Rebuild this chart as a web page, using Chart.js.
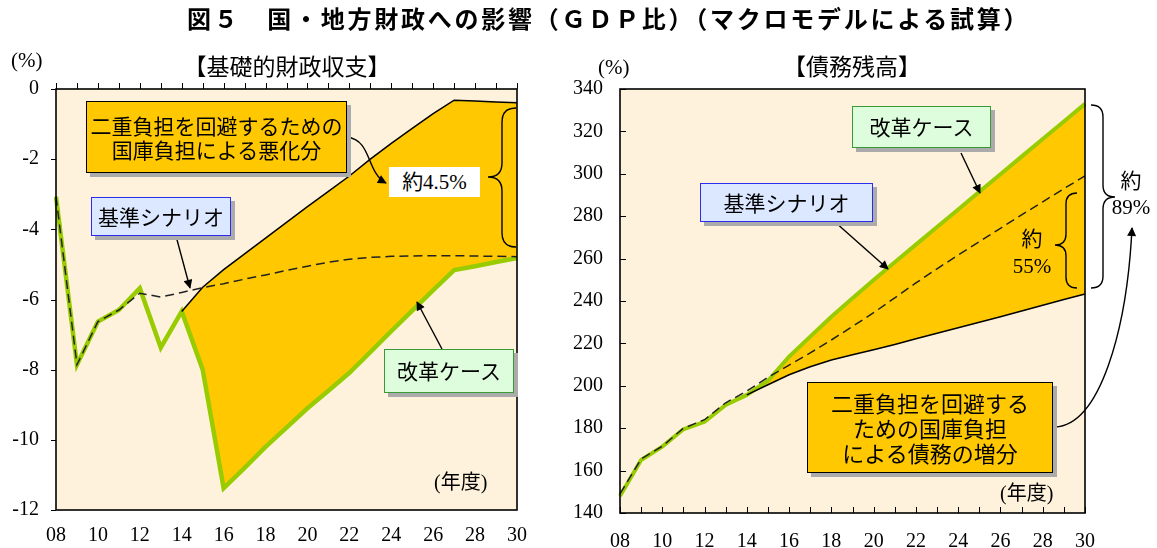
<!DOCTYPE html>
<html lang="ja">
<head>
<meta charset="utf-8">
<script src="https://cdn.jsdelivr.net/npm/chart.js@4.4.1/dist/chart.umd.min.js"></script>
<style>
  html, body { margin: 0; padding: 0; background: #fff; }
  #page { position: relative; width: 1157px; height: 548px; overflow: hidden; color: #000;
          font-family: "Liberation Serif", "Noto Sans CJK JP", serif; }
  canvas { position: absolute; top: 0; }
  #cvA { left: 0; }
  #cvB { left: 556px; }
  .t { position: absolute; white-space: nowrap; }
  .jp { font-family: "Noto Sans CJK JP", sans-serif; }
  .box { position: absolute; box-sizing: border-box; text-align: center; white-space: nowrap;
         font-family: "Noto Sans CJK JP", sans-serif; }
  .gold  { background: #FFC800; border: 1.5px solid #000; box-shadow: 4px 4px 0 #ABABAB; }
  .blue  { background: #DCE8FF; border: 1.5px solid #2a2cf0; box-shadow: 4px 4px 0 #ABABAB; }
  .green { background: #DDFDDD; border: 1.5px solid #3a9a3a; box-shadow: 4px 4px 0 #ABABAB; }
  svg { position: absolute; left: 0; top: 0; }
</style>
</head>
<body>
<div id="page">
  <canvas id="cvA" width="556" height="548" style="width:556px;height:548px"></canvas>
  <canvas id="cvB" width="601" height="548" style="width:601px;height:548px"></canvas>

  <div class="t jp" style="left:187px;top:3px;font-size:24px;font-weight:700;letter-spacing:2.75px;line-height:30px;">図５　国・地方財政への影響（ＧＤＰ比）（マクロモデルによる試算）</div>

  <div class="t jp" style="left:177px;top:50px;width:220px;text-align:center;font-size:23px;line-height:30px;">【基礎的財政収支】</div>
  <div class="t jp" style="left:782px;top:50px;width:140px;text-align:center;font-size:23px;line-height:30px;">【債務残高】</div>
  <div class="t" style="left:11px;top:47px;font-size:21px;line-height:26px;">(%)</div>
  <div class="t" style="left:598px;top:54px;font-size:21px;line-height:26px;">(%)</div>
  <div class="t" style="left:434px;top:469px;font-size:20px;line-height:26px;">(年度)</div>
  <div class="t" style="left:1000px;top:480px;font-size:20px;line-height:26px;">(年度)</div>

  <svg width="1157" height="548" viewBox="0 0 1157 548">
    <defs>
      <marker id="ah" viewBox="0 0 10 10" refX="9" refY="5" markerWidth="11" markerHeight="9" markerUnits="userSpaceOnUse" orient="auto">
        <path d="M0,0 L10,5 L0,10 z" fill="#000"/>
      </marker>
    </defs>
    <g fill="none" stroke="#000" stroke-width="1.4">
      <!-- braces -->
      <path d="M516,108 Q502,108 502,122 L502,163 Q502,177 488,177 Q502,177 502,191 L502,233 Q502,247 516,247"/>
      <path d="M1077,193 Q1066,193 1066,204 L1066,234 Q1066,245 1055,245 Q1066,245 1066,256 L1066,277 Q1066,288 1077,288"/>
      <path d="M1091,105 Q1103,105 1103,117 L1103,185 Q1103,197 1115,197 Q1103,197 1103,209 L1103,276 Q1103,288 1091,288"/>
      <!-- leader arrows -->
      <path d="M347,137 C372,140 366,172 386,183" marker-end="url(#ah)"/>
      <path d="M176,236 L190,288" marker-end="url(#ah)"/>
      <path d="M442,349 L417,302" marker-end="url(#ah)"/>
      <path d="M961,153 L980,193" marker-end="url(#ah)"/>
      <path d="M835,222 L888,269" marker-end="url(#ah)"/>
      <path d="M1055,427 C1100,425 1127,330 1132,228" marker-end="url(#ah)"/>
    </g>
  </svg>

  <div class="box gold" style="left:86px;top:101px;width:261px;height:72px;font-size:21px;line-height:24px;padding-top:11px;">二重負担を回避するための<br>国庫負担による悪化分</div>
  <div class="box" style="left:389px;top:167px;width:91px;height:30px;background:#fff;font-family:'Liberation Serif','Noto Sans CJK JP',serif;font-size:21px;line-height:30px;">約4.5%</div>
  <div class="box blue" style="left:91px;top:197px;width:140px;height:39px;font-size:21px;line-height:36px;">基準シナリオ</div>
  <div class="box green" style="left:384px;top:349px;width:130px;height:44px;font-size:21px;line-height:41px;">改革ケース</div>

  <div class="box green" style="left:852px;top:106px;width:139px;height:42px;font-size:21px;line-height:39px;">改革ケース</div>
  <div class="box blue" style="left:700px;top:183px;width:173px;height:39px;font-size:21px;line-height:36px;">基準シナリオ</div>
  <div class="box gold" style="left:807px;top:382px;width:246px;height:91px;font-size:22px;line-height:25px;padding-top:7px;">二重負担を回避する<br>ための国庫負担<br>による債務の増分</div>
  <div class="t" style="left:1002px;top:226px;width:60px;text-align:center;font-size:21px;line-height:27px;">約<br>55%</div>
  <div class="t" style="left:1101px;top:168px;width:60px;text-align:center;font-size:21px;line-height:26px;">約<br>89%</div>
</div>

<script>
// Fiscal years shown on both horizontal axes (FY2008–FY2030)
const years = ['08','09','10','11','12','13','14','15','16','17','18','19','20',
               '21','22','23','24','25','26','27','28','29','30'];

// Primary balance, % of GDP
const pbBase   = [-3.07,-7.86,-6.63,-6.30,-5.82,-5.93,-5.80,-5.66,-5.55,-5.42,-5.30,-5.17,-5.05,
                  -4.94,-4.85,-4.80,-4.77,-4.76,-4.75,-4.75,-4.76,-4.77,-4.78];
const pbReform = [-3.07,-7.86,-6.63,-6.30,-5.68,-7.37,-6.34,-8.00,-11.38,-10.80,-10.20,-9.65,-9.10,
                  -8.60,-8.09,-7.50,-6.90,-6.32,-5.73,-5.16,-5.05,-4.93,-4.82];
const pbBurden = [null,null,null,null,null,null,-6.34,-5.65,-5.15,-4.70,-4.25,-3.80,-3.35,
                  -2.92,-2.48,-2.00,-1.55,-1.12,-0.70,-0.32,-0.34,-0.37,-0.39];

// Outstanding debt, % of GDP
const debtBase   = [149,165.5,171.5,180,184,192,197.5,204,209.8,215.5,221.6,228,234.5,
                    241.5,248.5,255.2,261.7,268,274.3,280.6,286.8,293,299];
const debtReform = [148,165,171.3,179.5,183,191,195.7,202.4,213.7,223.2,232.6,241.3,249.9,
                    258.3,266.6,274.9,283.2,291.5,299.8,308.1,316.4,324.7,333];
const debtBurden = [null,null,null,null,null,null,195.7,200.5,205.2,209,212.2,214.6,217,
                    219.5,222.2,224.8,227.4,230,232.6,235.3,238,240.7,243.3];

// Axis ranges
const pbAxis   = { min: -12, max: 0,   step: 2 };
const debtAxis = { min: 140, max: 340, step: 20 };

const COL_FILL   = '#FFC800';
const COL_REFORM = '#99CC00';
const COL_PLOT   = '#FFF2DC';
const TICK_FONT  = { family: 'Liberation Serif', size: 20 };

// Plot background, frame and tick marks
const framePlugin = {
  id: 'frame',
  beforeDraw(chart, args, o) {
    const { ctx, chartArea: a } = chart;
    ctx.save();
    ctx.fillStyle = COL_PLOT;
    ctx.fillRect(a.left, a.top, a.right - a.left, a.bottom - a.top);
    ctx.restore();
  },
  afterDraw(chart, args, o) {
    const { ctx, chartArea: a, scales } = chart;
    ctx.save();
    ctx.strokeStyle = '#000';
    ctx.lineWidth = 1;
    ctx.beginPath();
    scales.x.ticks.forEach((t, i) => {
      const x = Math.round(scales.x.getPixelForTick(i)) + 0.5;
      if (o.xTicks === 'topOut') { ctx.moveTo(x, a.top); ctx.lineTo(x, a.top - 6); }
      else { ctx.moveTo(x, a.bottom); ctx.lineTo(x, a.bottom - 6); }
    });
    scales.y.ticks.forEach((t, i) => {
      const y = Math.round(scales.y.getPixelForTick(i)) + 0.5;
      if (o.yTicks === 'out') { ctx.moveTo(a.left - 5, y); ctx.lineTo(a.left, y); }
      else { ctx.moveTo(a.left, y); ctx.lineTo(a.left + 6, y); }
    });
    ctx.stroke();
    ctx.lineWidth = 1.6;
    ctx.strokeRect(a.left, a.top, a.right - a.left, a.bottom - a.top);
    ctx.restore();
  }
};

function lineSets(base, burden, reform, reformWidth) {
  return [
    { label: '基準シナリオ', data: base, borderColor: '#222', borderWidth: 1.5,
      borderDash: [9, 5], pointRadius: 0, fill: false, tension: 0 },
    { label: '国庫負担', data: burden, borderColor: '#000', borderWidth: 1.5,
      pointRadius: 0, fill: 2, backgroundColor: COL_FILL, tension: 0 },
    { label: '改革ケース', data: reform, borderColor: COL_REFORM, borderWidth: reformWidth,
      pointRadius: 0, fill: false, tension: 0 }
  ];
}

function makeChart(id, sets, axis, g) {
  return new Chart(document.getElementById(id), {
    type: 'line',
    data: { labels: years, datasets: sets },
    options: {
      responsive: false,
      animation: false,
      events: [],
      layout: { padding: { top: 89, left: 0, right: g.right, bottom: 0 } },
      plugins: {
        legend: { display: false },
        tooltip: { enabled: false },
        filler: { drawTime: 'beforeDatasetsDraw' },
        frame: { xTicks: g.xTicks, yTicks: g.yTicks }
      },
      scales: {
        x: {
          type: 'category', offset: false,
          grid: { display: false, drawTicks: false }, border: { display: false },
          ticks: { autoSkip: false, maxRotation: 0, padding: g.xPad, color: '#000', font: TICK_FONT,
                   callback: (v, i) => (i % 2 === 0 ? years[i] : '') },
          afterFit: s => { s.height = g.xH; }
        },
        y: {
          min: axis.min, max: axis.max,
          grid: { display: false, drawTicks: false }, border: { display: false },
          ticks: { stepSize: axis.step, padding: 17, color: '#000', font: TICK_FONT },
          afterFit: s => { s.width = g.yW; }
        }
      }
    },
    plugins: [framePlugin]
  });
}

makeChart('cvA', lineSets(pbBase, pbBurden, pbReform, 4.5), pbAxis,
          { right: 39, xPad: 14, xH: 38, yW: 56, xTicks: 'topOut', yTicks: 'out' });
makeChart('cvB', lineSets(debtBase, debtBurden, debtReform, 4), debtAxis,
          { right: 72, xPad: 17, xH: 35, yW: 64, xTicks: 'bottomIn', yTicks: 'in' });
</script>
</body>
</html>
